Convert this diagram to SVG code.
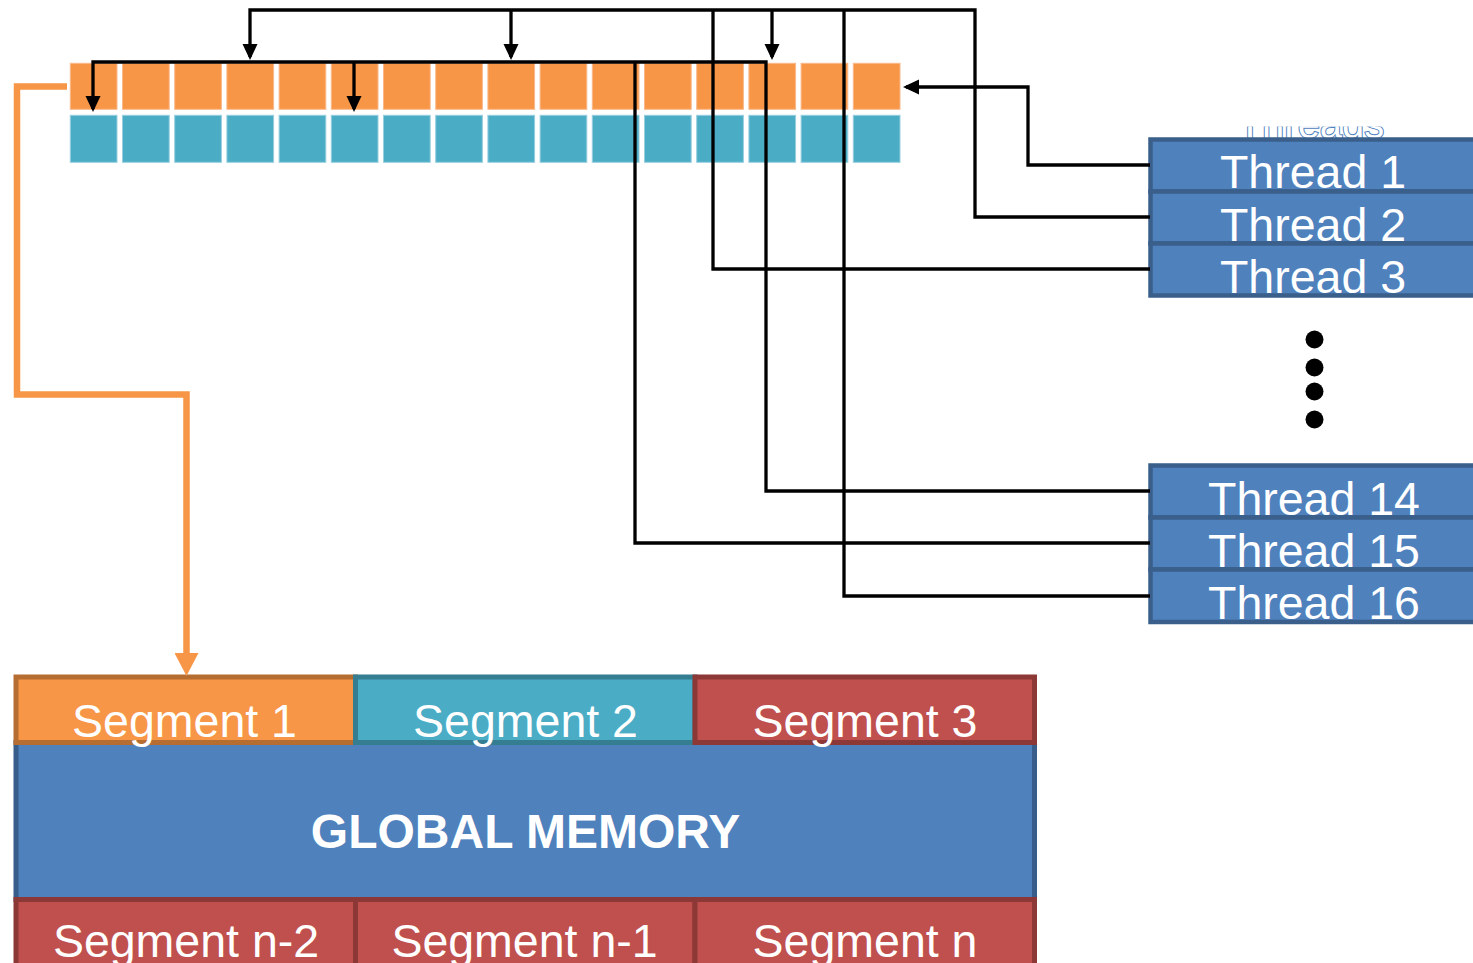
<svg xmlns="http://www.w3.org/2000/svg" width="1473" height="963" viewBox="0 0 1473 963">
  <style>
    .lbl { font-family: "Liberation Sans", Arial, sans-serif; fill: #FFFFFF; text-anchor: middle; }
    .thr { font-size: 46.5px; }
    .seg { font-size: 46.5px; }
    .title { font-size: 48px; font-weight: bold; }
    .c-or { fill: #F79646; stroke: #FAB88A; stroke-width: 1; }
    .c-te { fill: #4BACC6; stroke: #97CFDF; stroke-width: 1; }
    .tbox { fill: #4F81BD; stroke: #3A5F8B; stroke-width: 4.5; }
    .s-or { fill: #F79646; stroke: #B66D31; stroke-width: 5; }
    .s-te { fill: #4BACC6; stroke: #357D91; stroke-width: 5; }
    .s-rd { fill: #C0504D; stroke: #8C3836; stroke-width: 5; }
    .g-bl { fill: #4F81BD; stroke: #385D8A; stroke-width: 5; }
    .wire { fill: none; stroke: #000000; stroke-width: 3.3; stroke-linejoin: miter; }
    .wire-a { fill: none; stroke: #000000; stroke-width: 3.3; marker-end: url(#arrowBlack); }
    .feed { fill: none; stroke: #F79646; stroke-width: 6.5; stroke-linejoin: miter; marker-end: url(#arrowOrange); }
  </style>
  <defs>
    <marker id="arrowBlack" markerUnits="userSpaceOnUse" viewBox="0 0 16 16" markerWidth="16" markerHeight="16" refX="13" refY="8" orient="auto">
      <path d="M0,0.5 L16,8 L0,15.5 Z" fill="#000000"/>
    </marker>
    <marker id="arrowOrange" markerUnits="userSpaceOnUse" viewBox="0 0 23 24" markerWidth="23" markerHeight="24" refX="7" refY="12" orient="auto">
      <path d="M0,0 L23,12 L0,24 Z" fill="#F79646"/>
    </marker>
    <clipPath id="headClip">
      <rect x="1150" y="126.5" width="323" height="12"/>
    </clipPath>
  </defs>

  <rect x="0" y="0" width="1473" height="963" fill="#FFFFFF"/>

  <!-- two rows of 16 cells -->
  <g id="cells">
    <g id="row-top">
      <rect class="c-or" x="70.3" y="63.3" width="46.7" height="46"/>
      <rect class="c-or" x="122.5" y="63.3" width="46.7" height="46"/>
      <rect class="c-or" x="174.7" y="63.3" width="46.7" height="46"/>
      <rect class="c-or" x="226.9" y="63.3" width="46.7" height="46"/>
      <rect class="c-or" x="279.1" y="63.3" width="46.7" height="46"/>
      <rect class="c-or" x="331.3" y="63.3" width="46.7" height="46"/>
      <rect class="c-or" x="383.5" y="63.3" width="46.7" height="46"/>
      <rect class="c-or" x="435.7" y="63.3" width="46.7" height="46"/>
      <rect class="c-or" x="487.9" y="63.3" width="46.7" height="46"/>
      <rect class="c-or" x="540.1" y="63.3" width="46.7" height="46"/>
      <rect class="c-or" x="592.3" y="63.3" width="46.7" height="46"/>
      <rect class="c-or" x="644.5" y="63.3" width="46.7" height="46"/>
      <rect class="c-or" x="696.7" y="63.3" width="46.7" height="46"/>
      <rect class="c-or" x="748.9" y="63.3" width="46.7" height="46"/>
      <rect class="c-or" x="801.1" y="63.3" width="46.7" height="46"/>
      <rect class="c-or" x="853.3" y="63.3" width="46.7" height="46"/>
    </g>
    <g id="row-bottom">
      <rect class="c-te" x="70.3" y="115.3" width="46.7" height="47"/>
      <rect class="c-te" x="122.5" y="115.3" width="46.7" height="47"/>
      <rect class="c-te" x="174.7" y="115.3" width="46.7" height="47"/>
      <rect class="c-te" x="226.9" y="115.3" width="46.7" height="47"/>
      <rect class="c-te" x="279.1" y="115.3" width="46.7" height="47"/>
      <rect class="c-te" x="331.3" y="115.3" width="46.7" height="47"/>
      <rect class="c-te" x="383.5" y="115.3" width="46.7" height="47"/>
      <rect class="c-te" x="435.7" y="115.3" width="46.7" height="47"/>
      <rect class="c-te" x="487.9" y="115.3" width="46.7" height="47"/>
      <rect class="c-te" x="540.1" y="115.3" width="46.7" height="47"/>
      <rect class="c-te" x="592.3" y="115.3" width="46.7" height="47"/>
      <rect class="c-te" x="644.5" y="115.3" width="46.7" height="47"/>
      <rect class="c-te" x="696.7" y="115.3" width="46.7" height="47"/>
      <rect class="c-te" x="748.9" y="115.3" width="46.7" height="47"/>
      <rect class="c-te" x="801.1" y="115.3" width="46.7" height="47"/>
      <rect class="c-te" x="853.3" y="115.3" width="46.7" height="47"/>
    </g>
  </g>

  <!-- heading above the thread list, mostly hidden -->
  <g id="threads-heading" clip-path="url(#headClip)">
    <text class="lbl" x="1311" y="138" font-size="40" stroke="#4F81BD" stroke-width="2" paint-order="stroke">Threads</text>
  </g>

  <!-- first three threads -->
  <g id="thread-1">
    <rect class="tbox" x="1150.5" y="139.5" width="330" height="52"/>
    <text class="lbl thr" x="1313" y="188">Thread 1</text>
  </g>
  <g id="thread-2">
    <rect class="tbox" x="1150.5" y="191.5" width="330" height="52"/>
    <text class="lbl thr" x="1313" y="240.5">Thread 2</text>
  </g>
  <g id="thread-3">
    <rect class="tbox" x="1150.5" y="243.5" width="330" height="52"/>
    <text class="lbl thr" x="1313" y="292.5">Thread 3</text>
  </g>

  <!-- ellipsis between thread groups -->
  <g id="ellipsis" fill="#000000">
    <circle cx="1314.5" cy="339.5" r="9"/>
    <circle cx="1314.5" cy="367.5" r="9"/>
    <circle cx="1314.5" cy="391.5" r="9"/>
    <circle cx="1314.5" cy="419.5" r="9"/>
  </g>

  <!-- last three threads -->
  <g id="thread-14">
    <rect class="tbox" x="1150.5" y="465.5" width="330" height="52"/>
    <text class="lbl thr" x="1314" y="514.5">Thread 14</text>
  </g>
  <g id="thread-15">
    <rect class="tbox" x="1150.5" y="517.5" width="330" height="52"/>
    <text class="lbl thr" x="1314" y="566.5">Thread 15</text>
  </g>
  <g id="thread-16">
    <rect class="tbox" x="1150.5" y="569.5" width="330" height="52.5"/>
    <text class="lbl thr" x="1314" y="619">Thread 16</text>
  </g>

  <!-- global memory with its segments -->
  <g id="global-memory">
    <rect class="g-bl" x="16" y="742.5" width="1018.5" height="157"/>
    <text class="lbl title" x="525.5" y="848">GLOBAL MEMORY</text>
  </g>
  <g id="segment-1">
    <rect class="s-or" x="16" y="677" width="339.5" height="65.5"/>
    <text class="lbl seg" x="184.5" y="737">Segment 1</text>
  </g>
  <g id="segment-2">
    <rect class="s-te" x="355.5" y="677" width="339.5" height="65.5"/>
    <text class="lbl seg" x="525.5" y="737">Segment 2</text>
  </g>
  <g id="segment-3">
    <rect class="s-rd" x="695" y="677" width="339.5" height="65.5"/>
    <text class="lbl seg" x="865" y="737">Segment 3</text>
  </g>
  <g id="segment-n-2">
    <rect class="s-rd" x="16" y="899.5" width="339.5" height="80"/>
    <text class="lbl seg" x="186" y="957">Segment n-2</text>
  </g>
  <g id="segment-n-1">
    <rect class="s-rd" x="355.5" y="899.5" width="339.5" height="80"/>
    <text class="lbl seg" x="524.5" y="957">Segment n-1</text>
  </g>
  <g id="segment-n">
    <rect class="s-rd" x="695" y="899.5" width="339.5" height="80"/>
    <text class="lbl seg" x="865" y="957">Segment n</text>
  </g>

  <!-- wiring from threads to cells, and the block copy down to memory -->
  <g id="connectors">
    <path class="wire-a" d="M1150,165 H1028 V87 H906"/>
    <path class="wire-a" d="M1150,217 H975 V10 H250 V57"/>
    <path class="wire-a" d="M511,10 V57"/>
    <path class="wire-a" d="M772,10 V57"/>
    <path class="wire" d="M1150,269 H713 V10"/>
    <path class="wire" d="M1150,596 H844 V10"/>
    <path class="wire-a" d="M1150,491 H766 V62 H93 V109"/>
    <path class="wire-a" d="M354,62 V109"/>
    <path class="wire" d="M1150,543 H635 V62"/>
    <path class="feed" d="M67,86.5 H17 V394.5 H186.5 V660"/>
  </g>
</svg>
